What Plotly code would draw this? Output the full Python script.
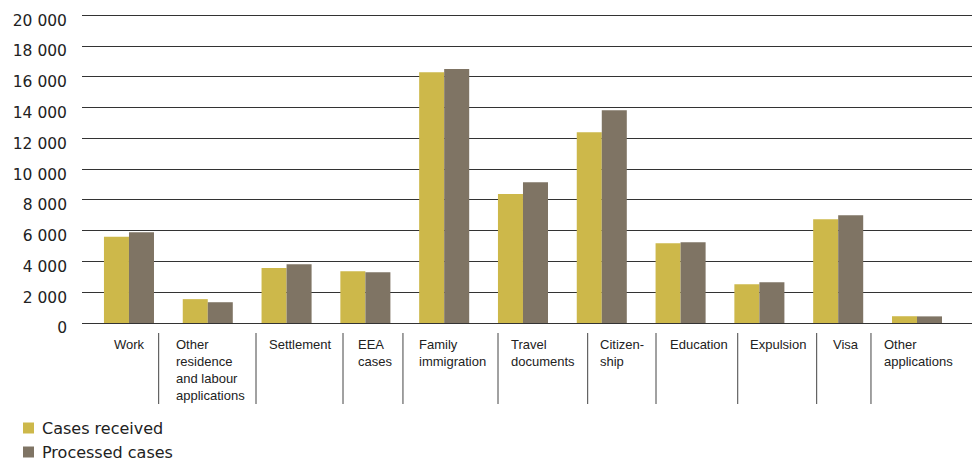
import plotly.graph_objects as go

# Case types and yearly volumes
categories = [
    "Work",
    "Other<br>residence<br>and labour<br>applications",
    "Settlement",
    "EEA<br>cases",
    "Family<br>immigration",
    "Travel<br>documents",
    "Citizen-<br>ship",
    "Education",
    "Expulsion",
    "Visa",
    "Other<br>applications",
]
cases_received = [5600, 1550, 3580, 3360, 16300, 8380, 12400, 5190, 2520, 6750, 440]
processed_cases = [5900, 1350, 3820, 3300, 16500, 9150, 13830, 5250, 2650, 7000, 430]
series_names = ["Cases received", "Processed cases"]
y_tick_values = list(range(0, 20001, 2000))

YELLOW = "#CDB84A"
TAUPE = "#7F7464"
TEXT = "#222222"
series_colors = [YELLOW, TAUPE]

W, H = 976, 461
M_L, M_R, M_T, M_B = 82, 4, 14, 138
PLOT_W = W - M_L - M_R
PLOT_H = H - M_T - M_B


def paper_y(px):
    """Convert a pixel row in the page to a paper y coordinate."""
    return (H - M_B - px) / PLOT_H


def paper_x(px):
    """Convert a pixel column in the page to a paper x coordinate."""
    return (px - M_L) / PLOT_W


# Layout of the label strip under the axis (offsets in category units)
label_offsets = [-0.216, -0.429, -0.249, -0.119, -0.345, -0.178, -0.048, -0.160, -0.145, -0.089, -0.444]
divider_offsets = [0.377, 0.612, 0.716, 0.477, 0.683, 0.821, 0.688, 0.725, 0.727, 0.416]

fig = go.Figure()
for name, values, color in zip(series_names, [cases_received, processed_cases], series_colors):
    fig.add_trace(go.Bar(name=name, x=categories, y=values, showlegend=False,
                         marker=dict(color=color, line=dict(width=0))))

annotations = []
shapes = []

# Category labels in a divided strip below the axis
for i, label in enumerate(categories):
    annotations.append(dict(
        xref="x", yref="paper", x=i + label_offsets[i], y=paper_y(335),
        xanchor="left", yanchor="top", align="left", showarrow=False,
        text=label, font=dict(family="Liberation Sans", size=13, color=TEXT),
    ))
for i, off in enumerate(divider_offsets):
    shapes.append(dict(
        type="line", xref="x", yref="paper", x0=i + off, x1=i + off,
        y0=paper_y(333), y1=paper_y(404),
        line=dict(color="#444444", width=1),
    ))

# Key: colour swatch followed by the series name
for k, (name, color) in enumerate(zip(series_names, series_colors)):
    cy = 428 + 24 * k
    shapes.append(dict(
        type="rect", xref="paper", yref="paper",
        x0=paper_x(23), x1=paper_x(34), y0=paper_y(cy + 5.5), y1=paper_y(cy - 5.5),
        fillcolor=color, line=dict(width=0),
    ))
    annotations.append(dict(
        xref="paper", yref="paper", x=paper_x(40), y=paper_y(cy),
        xanchor="left", yanchor="middle", showarrow=False, text=name,
        font=dict(family="DejaVu Sans", size=16, color=TEXT),
    ))

fig.update_layout(
    width=W, height=H,
    margin=dict(l=M_L, r=M_R, t=M_T, b=M_B, pad=0, autoexpand=False),
    paper_bgcolor="white", plot_bgcolor="white",
    barmode="group", bargap=0.365, bargroupgap=0,
    separators=", ",
    showlegend=False,
    font=dict(family="DejaVu Sans", color=TEXT),
    xaxis=dict(range=[-0.596, 10.698], showticklabels=False, showgrid=False,
               zeroline=False, showline=False, ticks=""),
    yaxis=dict(range=[0, 20080], tickvals=y_tick_values, tickformat=",d",
               showgrid=True, gridcolor="#333333", gridwidth=1.2,
               zeroline=True, zerolinecolor="#333333", zerolinewidth=1.2,
               showline=False, ticks="", ticklabelstandoff=14, ticklabelshift=5,
               tickfont=dict(family="DejaVu Sans", size=15.5, color=TEXT)),
    annotations=annotations,
    shapes=shapes,
)

fig.write_html("out.html")
